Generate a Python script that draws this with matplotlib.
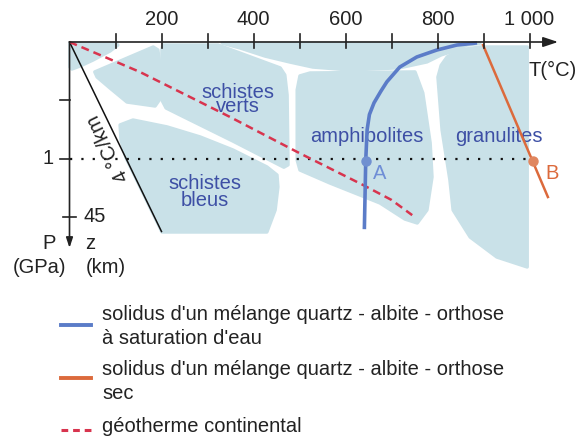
import matplotlib
matplotlib.use("Agg")
import matplotlib.pyplot as plt
from matplotlib.patches import Polygon
from matplotlib.lines import Line2D

plt.rcParams['font.family'] = ['Liberation Sans', 'DejaVu Sans']

# axes ticks
t_ticks = [100, 200, 300, 400, 500, 600, 700, 800, 900, 1000]
t_labels = {200: "200", 400: "400", 600: "600", 800: "800", 1000: "1 000"}

# facies domains (T in °C, P in GPa)
corner_T = [1, 99, 105, 88, 51, 23, 5, 1]
corner_P = [0.01, 0.01, 0.026, 0.077, 0.154, 0.205, 0.231, 0.214]

small_T = [55, 182, 192, 195, 195, 186, 125, 88, 60]
small_P = [0.256, 0.043, 0.068, 0.154, 0.496, 0.547, 0.513, 0.393, 0.299]

verts_T = [203, 323, 458, 468, 473, 475, 466, 355, 236, 210, 201, 201]
verts_P = [0.026, 0.026, 0.222, 0.282, 0.453, 1.05, 1.07, 0.846, 0.615, 0.564, 0.496, 0.068]

strip_T = [332, 892, 864, 842, 808, 777, 718, 610, 529, 479, 425, 371]
strip_P = [0.01, 0.01, 0.026, 0.068, 0.11, 0.17, 0.22, 0.239, 0.214, 0.171, 0.12, 0.051]

amph_T = [495, 501, 523, 751, 768, 784, 788, 777, 756, 729, 675, 566, 501, 495]
amph_P = [0.41, 0.29, 0.265, 0.256, 0.436, 0.863, 1.154, 1.436, 1.547, 1.513, 1.376, 1.205, 1.094, 1.01]

gran_T = [801, 808, 821, 849, 892, 995, 995, 929, 871, 834, 827, 810]
gran_P = [0.30, 0.2, 0.128, 0.068, 0.043, 0.043, 1.923, 1.838, 1.667, 1.436, 1.179, 0.752]

bleus_T = [110, 138, 212, 284, 355, 429, 451, 453, 447, 429, 201, 123, 112]
bleus_P = [0.709, 0.667, 0.726, 0.812, 0.923, 1.068, 1.137, 1.239, 1.436, 1.624, 1.624, 0.991, 0.838]

# solidus curves and geotherms
wet_T = [641, 644, 647, 652, 662, 677, 690, 718, 755, 799, 842, 886]
wet_P = [1.60, 1.01, 0.75, 0.62, 0.52, 0.42, 0.34, 0.214, 0.128, 0.068, 0.026, 0.008]

dry_T = [899, 1040]
dry_P = [0.026, 1.325]

geo_T = [0, 153, 349, 495, 638, 700, 745]
geo_P = [0, 0.256, 0.641, 0.94, 1.222, 1.35, 1.48]

grad4_T = [0, 200]
grad4_P = [0, 1.62]

point_A = (645, 1.02)
point_B = (1008, 1.02)

legend_labels = ["solidus d'un mélange quartz - albite - orthose\nà saturation d'eau",
                 "solidus d'un mélange quartz - albite - orthose\nsec",
                 "géotherme continental"]

fill_c = '#c9e1e8'
blue = '#5b7cc8'
orange = '#dc6a3c'
red = '#d8344e'
lab_c = '#3d4fa5'
ink = '#222222'

fig = plt.figure(figsize=(5.87, 4.38), dpi=100)
ax = fig.add_axes([0, 0, 1, 1])
ax.set_xlim(-151.1, 1125)
ax.set_ylim(3.385, -0.359)
ax.axis('off')

for tt, pp in [(corner_T, corner_P), (small_T, small_P), (verts_T, verts_P),
               (strip_T, strip_P), (amph_T, amph_P), (gran_T, gran_P),
               (bleus_T, bleus_P)]:
    ax.add_patch(Polygon(list(zip(tt, pp)), closed=True, facecolor=fill_c,
                         edgecolor=fill_c, lw=2.5, joinstyle='round', zorder=1))

# axes with arrows
ax.annotate('', xy=(1062, 0), xytext=(0, 0),
            arrowprops=dict(arrowstyle='-|>,head_length=0.9,head_width=0.3',
                            color=ink, lw=1.2, shrinkA=0, shrinkB=0), zorder=5)
ax.annotate('', xy=(0, 1.76), xytext=(0, 0),
            arrowprops=dict(arrowstyle='-|>,head_length=0.6,head_width=0.2',
                            color=ink, lw=1.2, shrinkA=0, shrinkB=0), zorder=5)
for t in t_ticks:
    ax.plot([t, t], [-0.068, 0.051], color=ink, lw=1.2, zorder=5)
    if t in t_labels:
        ax.text(t, -0.19, t_labels[t], ha='center', va='center', fontsize=14.5, color=ink)
ax.plot([-20, 0], [0.5, 0.5], color=ink, lw=1.2)
ax.plot([-20, 0], [1.0, 1.0], color=ink, lw=1.2)
ax.plot([-14, 14], [1.5, 1.5], color=ink, lw=1.2)
ax.text(-34, 1.0, "1", ha='right', va='center', fontsize=14.5, color=ink)
ax.text(31, 1.49, "45", ha='left', va='center', fontsize=14.5, color=ink)
ax.text(-44, 1.72, "P", ha='center', va='center', fontsize=14.5, color=ink)
ax.text(45, 1.72, "z", ha='center', va='center', fontsize=14.5, color=ink)
ax.text(-66, 1.93, "(GPa)", ha='center', va='center', fontsize=14.5, color=ink)
ax.text(78, 1.93, "(km)", ha='center', va='center', fontsize=14.5, color=ink)
ax.text(997, 0.24, "T(°C)", ha='left', va='center', fontsize=14.5, color=ink)

# 1 GPa reference
ax.plot([0, point_B[0]], [1.0, 1.0], color='#111111', lw=1.6,
        linestyle=(0, (1, 4.1)), zorder=3)

# 4 °C/km
ax.plot(grad4_T, grad4_P, color='#111111', lw=1.1, zorder=3)
ax.text(84, 0.91, "4 °C/km", rotation=116, ha='center', va='center',
        fontsize=14.5, color=ink, rotation_mode='anchor')

ax.plot(geo_T, geo_P, color=red, lw=1.8, dashes=(3.2, 2.0), zorder=4)
ax.plot(wet_T, wet_P, color=blue, lw=2.6, zorder=4, solid_capstyle='butt')
ax.plot(dry_T, dry_P, color=orange, lw=1.8, zorder=4)
ax.plot(*point_A, 'o', color='#7090d0', ms=6.5, zorder=5)
ax.plot(*point_B, 'o', color='#e0865f', ms=6.5, zorder=5)
ax.text(675, 1.12, "A", ha='center', va='center', fontsize=14.5, color='#6f8ed6')
ax.text(1049, 1.12, "B", ha='center', va='center', fontsize=14.5, color=orange)

# facies names
ax.text(367, 0.49, "schistes\nverts", ha='center', va='center', fontsize=14.5,
        color=lab_c, linespacing=0.68)
ax.text(295, 1.285, "schistes\nbleus", ha='center', va='center', fontsize=14.5,
        color=lab_c, linespacing=0.86)
ax.text(647, 0.812, "amphibolites", ha='center', va='center', fontsize=14.5, color=lab_c)
ax.text(934, 0.812, "granulites", ha='center', va='center', fontsize=14.5, color=lab_c)

# legend, drawn by hand
W, H = 587.0, 438.0
leg_y = [325, 378, 430]
leg_style = [dict(color=blue, lw=2.8), dict(color=orange, lw=2.8),
             dict(color=red, lw=2.2, dashes=(2.2, 1.6))]
text_y = [326.5, 381.5, 427]
for y, st, lab, ty in zip(leg_y, leg_style, legend_labels, text_y):
    fig.add_artist(Line2D([61 / W, 91 / W], [1 - y / H, 1 - y / H], **st))
    fig.text(102 / W, 1 - ty / H, lab, ha='left', va='center', fontsize=14.5,
             color=ink, linespacing=1.35)

fig.savefig("out.png", dpi=100)
